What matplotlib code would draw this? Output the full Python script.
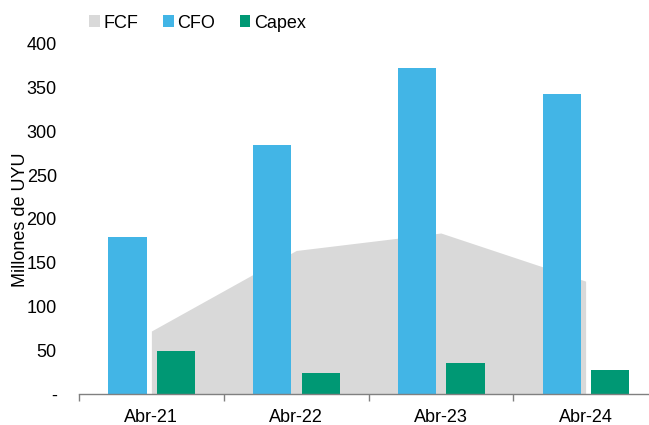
import matplotlib
matplotlib.use("Agg")
import matplotlib.pyplot as plt
import numpy as np

categories = ["Abr-21", "Abr-22", "Abr-23", "Abr-24"]
cfo = [179, 285, 373, 343]
capex = [49, 24, 36, 28]
fcf = [72, 164, 184, 129]

plt.rcParams['font.family'] = ['Liberation Sans', 'DejaVu Sans']

W, H = 649, 425
fig = plt.figure(figsize=(W/100, H/100), dpi=100)
left, right, top, bottom = 79, 658, 44, 394
ax = fig.add_axes([left/W, 1 - bottom/H, (right-left)/W, (bottom-top)/H])

x = np.arange(len(categories))
gray = "#d9d9d9"
blue = "#42b5e6"
green = "#009874"

ax.fill_between(x, 0, fcf, color=gray, lw=0, zorder=1, label="FCF")
bw = 0.265
ax.bar(x - 0.165, cfo, width=bw, color=blue, zorder=2, label="CFO")
ax.bar(x + 0.170, capex, width=bw, color=green, zorder=2, label="Capex")

ax.set_ylim(0, 400)
ax.set_xlim(-0.5, 3.5)
ax.set_yticks(np.arange(0, 401, 50))
ax.set_yticklabels(["-"] + [str(v) for v in range(50, 401, 50)])
ax.set_xticks(x)
ax.set_xticklabels(categories)
ax.set_xticks(np.arange(-0.5, 4, 1), minor=True)
ax.tick_params(axis='x', which='major', length=0, labelsize=13, pad=11)
ax.tick_params(axis='x', which='minor', length=5, color="#808080", width=1)
ax.tick_params(axis='y', length=0, labelsize=13, pad=16)

for s in ["top", "right", "left"]:
    ax.spines[s].set_visible(False)
ax.spines["bottom"].set_color("#808080")
ax.spines["bottom"].set_linewidth(1)

fig.text(21/W, 1 - 220/H, "Millones de UYU", rotation=90, fontsize=13,
         ha="center", va="center")

leg = fig.legend(loc="center left", bbox_to_anchor=(82/W, 1 - 23/H), ncol=3,
                 frameon=False, fontsize=13, handlelength=0.6, handleheight=0.6,
                 handletextpad=0.2, columnspacing=1.35, borderaxespad=0)

fig.savefig("out.png", dpi=100)
